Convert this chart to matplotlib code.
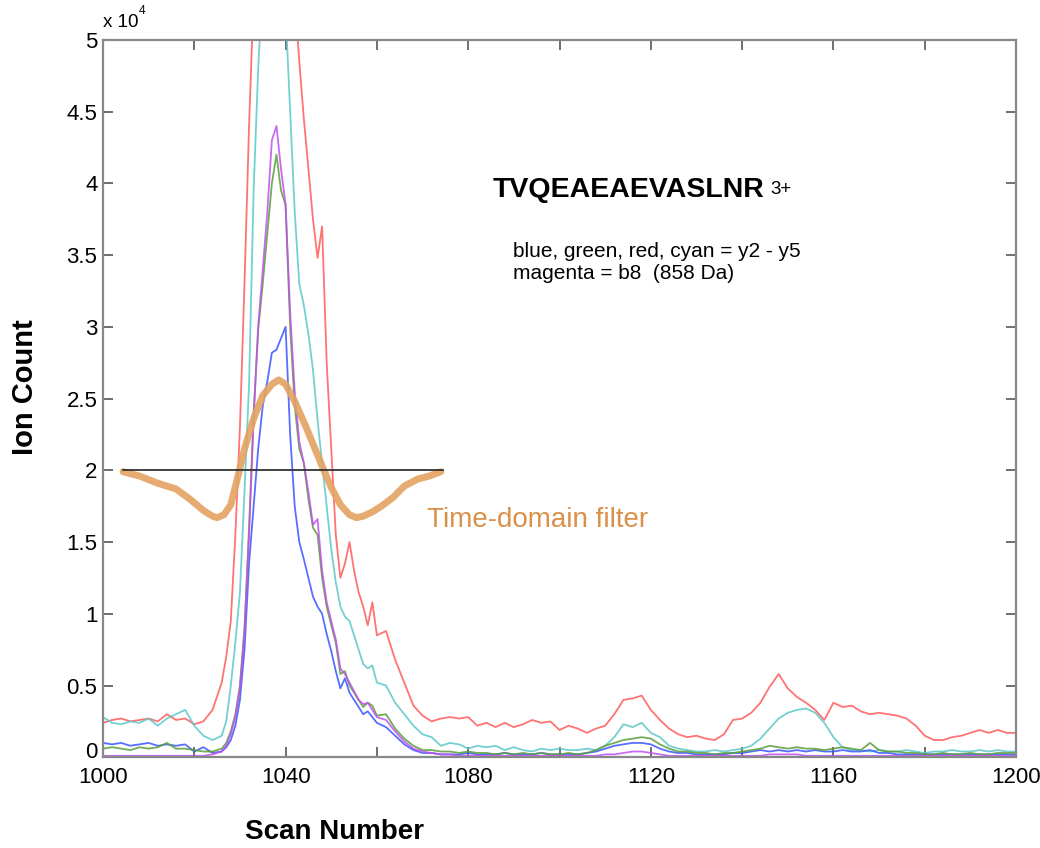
import matplotlib
matplotlib.use('Agg')
from matplotlib import pyplot as plt
from matplotlib.transforms import ScaledTranslation

plt.rcParams['font.family'] = ['Liberation Sans', 'DejaVu Sans']

# scan numbers: step 2, step 1 across the peak, step 2 again
scans = list(range(1000, 1026, 2)) + list(range(1026, 1060)) + list(range(1060, 1201, 2))

# ion counts in units of 1e4
red = [0.24, 0.26, 0.27, 0.25, 0.26, 0.27, 0.25, 0.30, 0.26, 0.27, 0.23, 0.25, 0.33,
       0.52, 0.70, 0.95, 1.55, 2.30, 3.30, 4.40, 5.30, 5.80, 6.20, 6.50, 6.70, 6.80, 6.70, 6.30, 5.80,
       5.30, 4.85, 4.45, 4.10, 3.75, 3.48, 3.70, 2.75, 2.15, 1.55, 1.25, 1.35, 1.50, 1.30, 1.15, 1.05,
       0.92, 1.08,
       0.85, 0.88, 0.68, 0.52, 0.36, 0.29, 0.25, 0.27, 0.28, 0.27, 0.28, 0.22, 0.24, 0.21, 0.24, 0.21,
       0.23, 0.26, 0.24, 0.25, 0.19, 0.22, 0.20, 0.17, 0.20, 0.22, 0.30, 0.40, 0.41, 0.43, 0.33, 0.26,
       0.20, 0.16, 0.14, 0.15, 0.13, 0.12, 0.16, 0.26, 0.27, 0.31, 0.38, 0.49, 0.58, 0.48, 0.42, 0.38,
       0.33, 0.26, 0.38, 0.35, 0.36, 0.32, 0.30, 0.31, 0.30, 0.29, 0.27, 0.22, 0.15, 0.12, 0.12, 0.14,
       0.15, 0.17, 0.19, 0.17, 0.19, 0.17, 0.17]
cyan = [0.28, 0.24, 0.23, 0.25, 0.24, 0.27, 0.22, 0.27, 0.30, 0.33, 0.22, 0.15, 0.12,
        0.15, 0.25, 0.50, 0.80, 1.15, 1.85, 2.60, 3.95, 4.80, 5.40, 5.90, 6.20, 6.20, 5.80, 5.20, 4.50,
        3.80, 3.30, 3.15, 2.95, 2.70, 2.35, 2.05, 1.75, 1.45, 1.22, 1.05, 0.98, 0.95, 0.85, 0.75, 0.65,
        0.62, 0.64,
        0.52, 0.50, 0.38, 0.30, 0.22, 0.16, 0.14, 0.08, 0.10, 0.09, 0.06, 0.08, 0.07, 0.08, 0.05, 0.07,
        0.05, 0.04, 0.06, 0.05, 0.06, 0.05, 0.05, 0.06, 0.05, 0.08, 0.14, 0.23, 0.21, 0.24, 0.17, 0.14,
        0.08, 0.06, 0.05, 0.04, 0.04, 0.05, 0.04, 0.05, 0.06, 0.08, 0.13, 0.20, 0.27, 0.31, 0.33, 0.34,
        0.31, 0.24, 0.14, 0.07, 0.05, 0.05, 0.04, 0.05, 0.04, 0.04, 0.05, 0.04, 0.03, 0.04, 0.04, 0.05,
        0.04, 0.04, 0.05, 0.04, 0.05, 0.04, 0.04]
green = [0.06, 0.07, 0.06, 0.05, 0.07, 0.06, 0.07, 0.10, 0.06, 0.06, 0.05, 0.04, 0.04,
         0.06, 0.10, 0.18, 0.30, 0.50, 0.90, 1.60, 2.40, 2.98, 3.30, 3.65, 4.00, 4.20, 3.95, 3.85, 3.00,
         2.45, 2.15, 2.05, 1.80, 1.60, 1.55, 1.25, 1.05, 0.92, 0.80, 0.58, 0.60, 0.50, 0.45, 0.40, 0.35,
         0.38, 0.36,
         0.29, 0.30, 0.20, 0.13, 0.08, 0.05, 0.05, 0.04, 0.04, 0.03, 0.04, 0.03, 0.03, 0.02, 0.03, 0.02,
         0.03, 0.02, 0.03, 0.02, 0.02, 0.03, 0.02, 0.03, 0.05, 0.08, 0.10, 0.12, 0.13, 0.14, 0.13, 0.09,
         0.06, 0.04, 0.04, 0.03, 0.03, 0.02, 0.03, 0.03, 0.04, 0.05, 0.06, 0.08, 0.07, 0.06, 0.07, 0.06,
         0.06, 0.05, 0.06, 0.07, 0.06, 0.05, 0.10, 0.05, 0.04, 0.04, 0.03, 0.03, 0.02, 0.02, 0.03, 0.02,
         0.02, 0.03, 0.02, 0.02, 0.03, 0.03, 0.03]
magenta = [0.01, 0.01, 0.01, 0.01, 0.01, 0.01, 0.01, 0.01, 0.01, 0.01, 0.01, 0.01, 0.02,
           0.04, 0.08, 0.16, 0.28, 0.48, 0.88, 1.55, 2.35, 3.00, 3.40, 3.80, 4.30, 4.40, 4.10, 3.85, 3.10,
           2.55, 2.20, 2.05, 1.85, 1.62, 1.66, 1.30, 1.08, 0.95, 0.82, 0.62, 0.58, 0.52, 0.46, 0.40, 0.37,
           0.38, 0.33,
           0.28, 0.26, 0.18, 0.11, 0.06, 0.04, 0.03, 0.02, 0.02, 0.01, 0.01, 0.01, 0.01, 0.01, 0.01, 0.01,
           0.01, 0.01, 0.01, 0.01, 0.01, 0.01, 0.01, 0.01, 0.01, 0.02, 0.02, 0.03, 0.04, 0.04, 0.03, 0.02,
           0.01, 0.01, 0.01, 0.01, 0.01, 0.01, 0.01, 0.01, 0.01, 0.01, 0.01, 0.02, 0.02, 0.02, 0.02, 0.01,
           0.01, 0.01, 0.01, 0.01, 0.01, 0.01, 0.01, 0.01, 0.01, 0.01, 0.01, 0.01, 0.01, 0.01, 0.01, 0.01,
           0.01, 0.01, 0.01, 0.01, 0.01, 0.01, 0.01]
blue = [0.10, 0.09, 0.10, 0.08, 0.09, 0.10, 0.08, 0.09, 0.08, 0.09, 0.04, 0.07, 0.03,
        0.04, 0.07, 0.12, 0.22, 0.40, 0.75, 1.35, 1.75, 2.15, 2.45, 2.62, 2.82, 2.84, 2.92, 3.00, 2.25,
        1.75, 1.50, 1.38, 1.25, 1.12, 1.05, 1.00, 0.86, 0.74, 0.60, 0.48, 0.55, 0.45, 0.40, 0.35, 0.30,
        0.32, 0.28,
        0.24, 0.21, 0.15, 0.09, 0.05, 0.03, 0.03, 0.02, 0.02, 0.02, 0.03, 0.02, 0.02, 0.02, 0.03, 0.02,
        0.02, 0.02, 0.03, 0.02, 0.02, 0.02, 0.02, 0.03, 0.04, 0.06, 0.08, 0.09, 0.10, 0.10, 0.09, 0.06,
        0.04, 0.03, 0.03, 0.02, 0.02, 0.02, 0.02, 0.03, 0.03, 0.04, 0.05, 0.04, 0.05, 0.04, 0.05, 0.04,
        0.05, 0.04, 0.04, 0.05, 0.04, 0.04, 0.05, 0.03, 0.03, 0.02, 0.02, 0.02, 0.02, 0.02, 0.02, 0.02,
        0.02, 0.02, 0.02, 0.02, 0.02, 0.02, 0.02]

# time-domain filter shape (drawn on the same axes)
filt_x = [1004.4, 1008, 1012, 1016, 1019, 1022, 1024, 1025, 1026.5, 1028, 1029.5, 1031, 1033, 1035,
          1037, 1038.5, 1040, 1042, 1044.5, 1048, 1050, 1052, 1054, 1055.5, 1057, 1059, 1061, 1063.5,
          1066, 1069, 1071.5, 1074]
filt_y = [1.99, 1.96, 1.91, 1.87, 1.80, 1.72, 1.68, 1.67, 1.69, 1.76, 1.95, 2.15, 2.36, 2.52,
          2.60, 2.63, 2.60, 2.48, 2.30, 2.03, 1.88, 1.76, 1.69, 1.67, 1.68, 1.71, 1.75, 1.81,
          1.89, 1.94, 1.96, 1.99]
base_x = [1004.4, 1074.5]
base_y = [2.0, 2.0]

fig = plt.figure(figsize=(10.4, 8.48), dpi=100)
ax = fig.add_axes([0.099, 0.107, 0.878, 0.846])

ax.plot(scans, red, color='#ff5a5a', lw=1.3, alpha=0.85)
ax.plot(scans, cyan, color='#5cc8c8', lw=1.3, alpha=0.85)
ax.plot(scans, blue, color='#3a55ff', lw=1.3, alpha=0.85)
ax.plot(scans, green, color='#5a9e3a', lw=1.3, alpha=0.85)
ax.plot(scans, magenta, color='#c050ee', lw=1.3, alpha=0.85)
ax.plot(filt_x, filt_y, color='#e3a262', lw=5, alpha=0.9, solid_capstyle='round')
ax.plot(base_x, base_y, color='#333333', lw=1.3)

ax.set_xlim(1000, 1200)
ax.set_ylim(0, 5)
xt = list(range(1000, 1201, 20))
ax.set_xticks(xt)
ax.set_xticklabels([str(t) if (t - 1000) % 40 == 0 else '' for t in xt])
yt = [0, 0.5, 1, 1.5, 2, 2.5, 3, 3.5, 4, 4.5, 5]
ax.set_yticks(yt)
ax.set_yticklabels(['0', '0.5', '1', '1.5', '2', '2.5', '3', '3.5', '4', '4.5', '5'])
ax.tick_params(direction='in', length=7, width=1.2, color='#555555', labelsize=16,
               top=True, right=True)
ax.tick_params(axis='x', pad=7)
ax.tick_params(axis='y', pad=4)
for s in ax.spines.values():
    s.set_color('#888888')
    s.set_linewidth(1.6)

# nudge the "0" label up so it clears "1000"
zero = ax.get_yticklabels()[0]
zero.set_transform(zero.get_transform() + ScaledTranslation(0, 5 / 72, fig.dpi_scale_trans))

fig.text(0.099, 0.968, 'x 10', fontsize=13.5)
fig.text(0.133, 0.983, '4', fontsize=8.5)

fig.text(0.474, 0.768, 'TVQEAEAEVASLNR', fontsize=20.5, fontweight='bold')
fig.text(0.741, 0.771, '3+', fontsize=13.5)
fig.text(0.493, 0.697, 'blue, green, red, cyan = y2 - y5', fontsize=15)
fig.text(0.493, 0.671, 'magenta = b8  (858 Da)', fontsize=15)
fig.text(0.411, 0.379, 'Time-domain filter', fontsize=20, color='#d9904a')

fig.text(0.024, 0.544, 'Ion Count', fontsize=21, fontweight='bold', rotation=90,
         ha='center', va='center')
fig.text(0.322, 0.019, 'Scan Number', fontsize=20, fontweight='bold', ha='center', va='center')

fig.savefig('out.png', dpi=100)
